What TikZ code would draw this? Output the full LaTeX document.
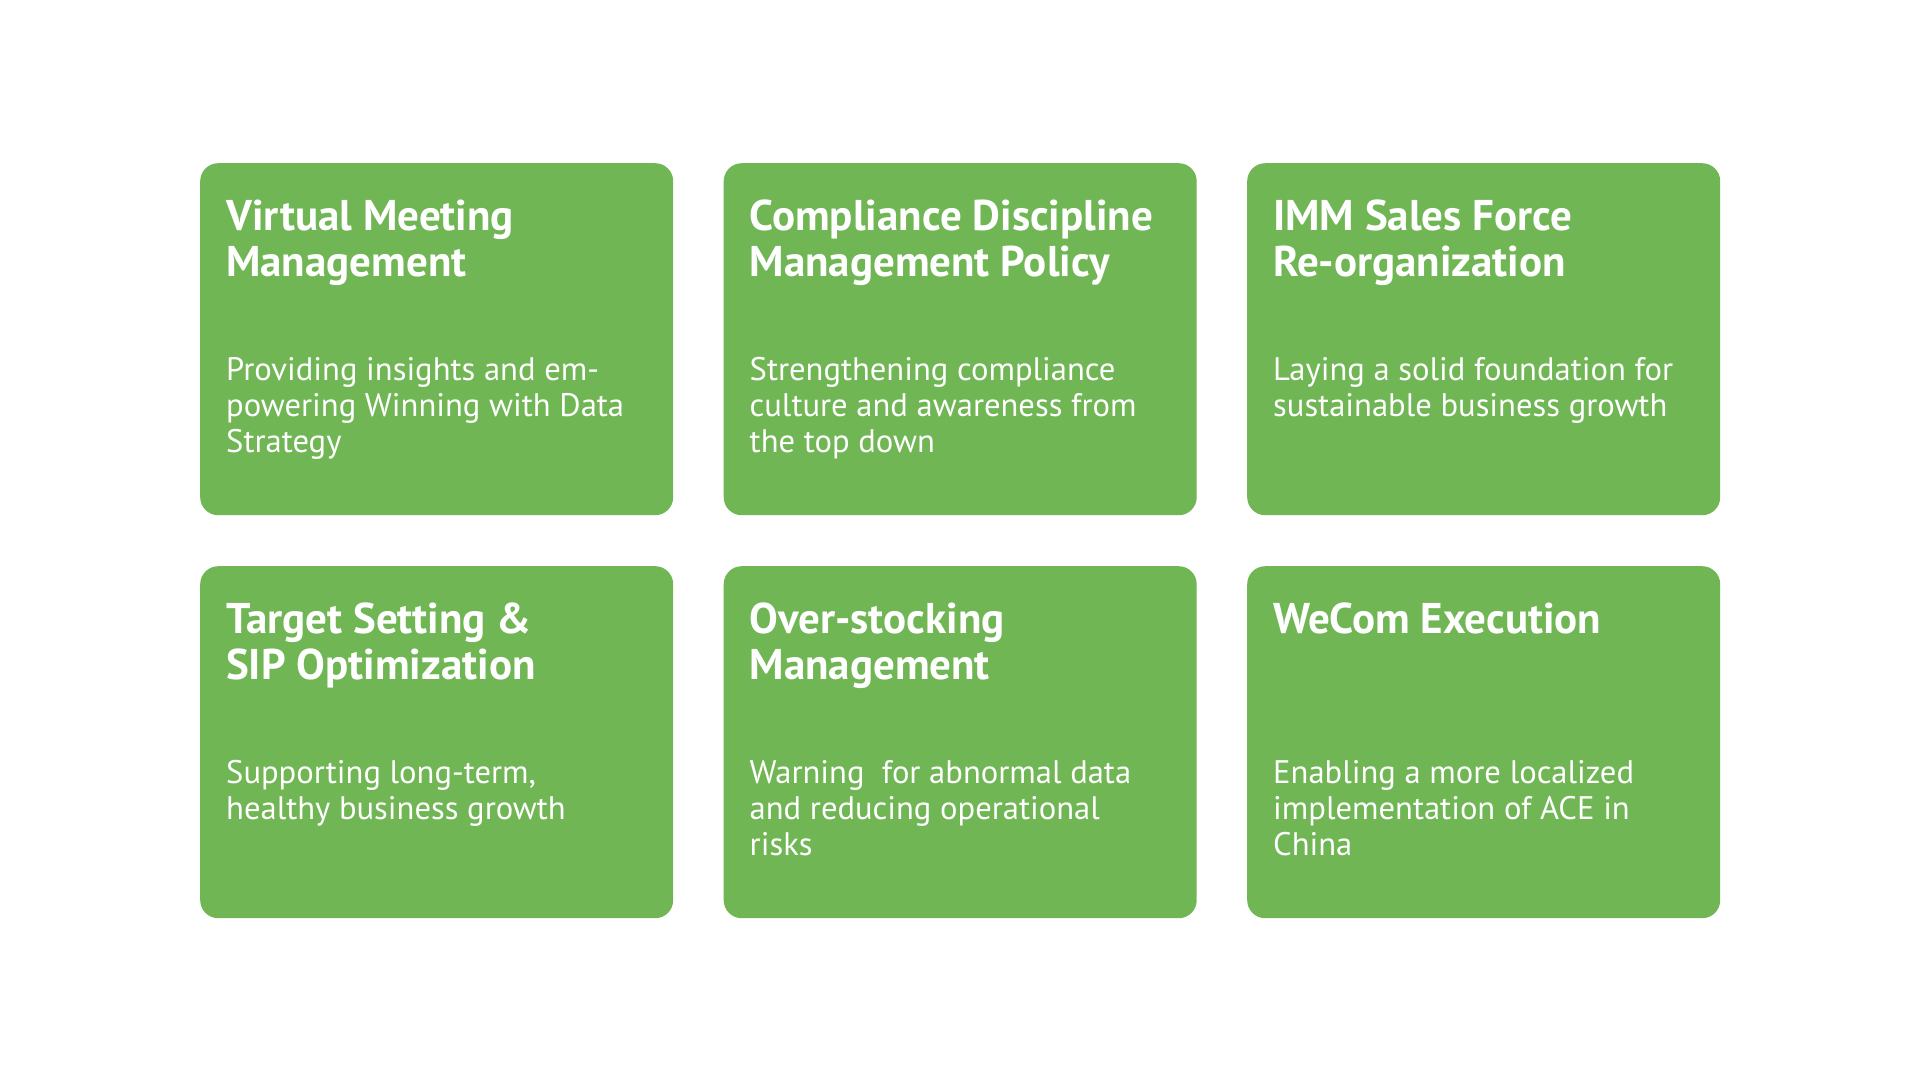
\documentclass[tikz,border=0pt]{standalone}
\usepackage{fontspec}
\setmainfont{PT Sans}
\definecolor{cardgreen}{RGB}{112,182,84}
\newcommand\txtblock[1]{\parbox[t]{440pt}{\raggedright #1}}
\begin{document}
\begin{tikzpicture}[x=1pt,y=-1pt,
  card/.style={fill=cardgreen, draw=none, rounded corners=18pt, minimum width=473pt, minimum height=352pt, anchor=north west, inner sep=0pt},
  cardtitle/.style={anchor=base west, inner sep=0pt, text=white, font=\fontsize{43}{46}\selectfont\bfseries},
  cardbody/.style={anchor=base west, inner sep=0pt, text=white, font=\fontsize{32.6}{36}\selectfont}]
\useasboundingbox[fill=white] (0,0) rectangle (1920,1080);
% cards
\node[card] (c1) at (200,163) {};
\node[card] (c2) at (723.5,163) {};
\node[card] (c3) at (1247,163) {};
\node[card] (c4) at (200,566) {};
\node[card] (c5) at (723.5,566) {};
\node[card] (c6) at (1247,566) {};
% text anchors
\foreach \c in {1,...,6}{
  \coordinate (t\c) at ([shift={(26,67)}]c\c.north west);
  \coordinate (b\c) at ([shift={(26,217)}]c\c.north west);
}
% titles
\node[cardtitle] (h1) at (t1) {\txtblock{Virtual Meeting\\Management}};
\node[cardtitle] (h2) at (t2) {\txtblock{Compliance Discipline\\Management Policy}};
\node[cardtitle] (h3) at (t3) {\txtblock{IMM Sales Force\\Re-organization}};
\node[cardtitle] (h4) at (t4) {\txtblock{Target Setting \&\\SIP Optimization}};
\node[cardtitle] (h5) at (t5) {\txtblock{Over-stocking\\Management}};
\node[cardtitle] (h6) at (t6) {\txtblock{WeCom Execution}};
% bodies
\node[cardbody] (d1) at (b1) {\txtblock{Providing insights and em-\\powering Winning with Data\\Strategy}};
\node[cardbody] (d2) at (b2) {\txtblock{Strengthening compliance\\culture and awareness from\\the top down}};
\node[cardbody] (d3) at (b3) {\txtblock{Laying a solid foundation for\\sustainable business growth}};
\node[cardbody] (d4) at (b4) {\txtblock{Supporting long-term,\\healthy business growth}};
\node[cardbody] (d5) at (b5) {\txtblock{Warning\ \ for abnormal data\\and reducing operational\\risks}};
\node[cardbody] (d6) at (b6) {\txtblock{Enabling a more localized\\implementation of ACE in\\China}};
\end{tikzpicture}
\end{document}
